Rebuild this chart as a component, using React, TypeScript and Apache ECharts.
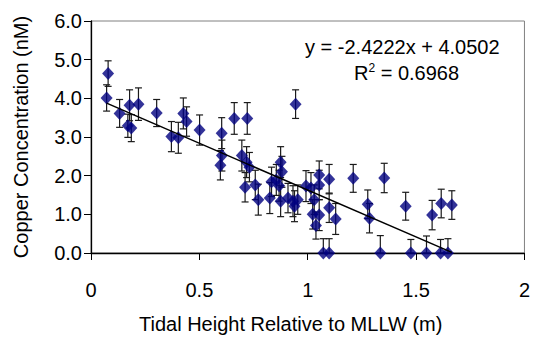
import React, { useEffect, useRef } from "react";
import * as echarts from "echarts";

const xValues = [0.072, 0.079, 0.132, 0.170, 0.178, 0.186, 0.219, 0.303, 0.371, 0.403, 0.426, 0.441, 0.501, 0.597, 0.603, 0.604, 0.661, 0.696, 0.718, 0.721, 0.731, 0.711, 0.758, 0.772, 0.825, 0.833, 0.855, 0.868, 0.875, 0.881, 0.875, 0.909, 0.932, 0.939, 0.954, 0.944, 0.992, 1.015, 1.030, 1.023, 1.038, 1.053, 1.053, 1.053, 1.099, 1.099, 1.129, 1.072, 1.099, 1.210, 1.277, 1.285, 1.335, 1.353, 1.452, 1.476, 1.548, 1.574, 1.613, 1.616, 1.647, 1.665];
const yValues = [4.01, 4.64, 3.61, 3.29, 3.82, 3.23, 3.85, 3.62, 3.01, 2.98, 3.61, 3.40, 3.18, 2.27, 3.10, 2.52, 3.48, 2.52, 2.35, 3.48, 2.22, 1.70, 1.76, 1.38, 1.42, 1.84, 1.89, 1.74, 2.35, 2.10, 1.34, 1.42, 1.34, 1.21, 1.38, 3.85, 1.73, 1.68, 1.38, 1.00, 0.71, 2.02, 1.76, 0.98, 1.91, 1.17, 0.88, 0, 0, 1.93, 1.26, 0.90, 0, 1.94, 1.21, 0, 0, 0.98, 0, 1.28, 0, 1.24];
const errValues = [0.34, 0.33, 0.36, 0.30, 0.40, 0.35, 0.42, 0.35, 0.39, 0.40, 0.40, 0.38, 0.39, 0.38, 0.40, 0.40, 0.41, 0.40, 0.40, 0.41, 0.38, 0.38, 0.38, 0.40, 0.40, 0.38, 0.40, 0.40, 0.40, 0.40, 0.40, 0.38, 0.40, 0.40, 0.38, 0.37, 0.40, 0.40, 0.38, 0.38, 0.35, 0.36, 0.38, 0.40, 0.38, 0.38, 0.40, 0.37, 0.37, 0.36, 0.37, 0.38, 0.45, 0.38, 0.36, 0.35, 0.44, 0.38, 0.35, 0.37, 0.37, 0.37];

const slope = -2.4222;
const intercept = 4.0502;
const equationText = "y = -2.4222x + 4.0502";
const r2Value = "0.6968";
const xTitle = "Tidal Height Relative to MLLW (m)";
const yTitle = "Copper Concentration (nM)";

const FONT = "Liberation Sans, Arial, sans-serif";

export default function App() {
  const ref = useRef<HTMLDivElement>(null);
  useEffect(() => {
    if (!ref.current) return;
    const chart = echarts.init(ref.current, null, { renderer: "svg" });
    const points = xValues.map((x, i) => [x, yValues[i]]);
    const bars = xValues.map((x, i) => [x, Math.max(0, yValues[i] - errValues[i]), yValues[i] + errValues[i]]);
    const xmin = Math.min(...xValues);
    const xmax = Math.max(...xValues);
    const trend = [[xmin, slope * xmin + intercept], [xmax, slope * xmax + intercept]];
    chart.setOption({
      animation: false,
      backgroundColor: "#ffffff",
      grid: { left: 91, right: 5, top: 21, bottom: 81, show: true, borderColor: "#808080", borderWidth: 1 },
      xAxis: {
        type: "value", min: 0, max: 2, interval: 0.5,
        axisLine: { show: true, onZero: false, lineStyle: { color: "#000", width: 1.3 } },
        axisTick: { show: true, length: 7, lineStyle: { color: "#000" } },
        axisLabel: { color: "#000", fontFamily: FONT, fontSize: 20, margin: 27, showMaxLabel: true },
        splitLine: { show: false },
        name: xTitle, nameLocation: "middle", nameGap: 61,
        nameTextStyle: { color: "#000", fontFamily: FONT, fontSize: 20, padding: [0, 34, 0, 0] },
      },
      yAxis: {
        type: "value", min: 0, max: 6, interval: 1,
        axisLine: { show: true, lineStyle: { color: "#000", width: 1.3 } },
        axisTick: { show: true, length: 7, lineStyle: { color: "#000" } },
        axisLabel: { color: "#000", fontFamily: FONT, fontSize: 20, margin: 9, formatter: (v: number) => v.toFixed(1) },
        splitLine: { show: false },
        name: yTitle, nameLocation: "middle", nameGap: 60,
        nameTextStyle: { color: "#000", fontFamily: FONT, fontSize: 20 },
      },
      series: [
        {
          type: "custom",
          data: bars,
          z: 2,
          renderItem: (params: any, api: any) => {
            const x = api.value(0);
            const lo = api.coord([x, api.value(1)]);
            const hi = api.coord([x, api.value(2)]);
            const cap = 3.5;
            const style = { stroke: "#1a1a1a", lineWidth: 1.2 };
            return {
              type: "group",
              children: [
                { type: "line", shape: { x1: lo[0], y1: lo[1], x2: hi[0], y2: hi[1] }, style },
                { type: "line", shape: { x1: hi[0] - cap, y1: hi[1], x2: hi[0] + cap, y2: hi[1] }, style },
                { type: "line", shape: { x1: lo[0] - cap, y1: lo[1], x2: lo[0] + cap, y2: lo[1] }, style },
              ],
            };
          },
        },
        {
          type: "scatter",
          data: points,
          symbol: "diamond",
          symbolSize: [12, 13],
          itemStyle: { color: "#000080" },
          z: 3,
        },
        {
          type: "line",
          data: trend,
          showSymbol: false,
          lineStyle: { color: "#000", width: 1.5 },
          z: 4,
        },
      ],
      graphic: [
        {
          type: "text", left: 305, top: 37, z: 10,
          style: { text: equationText, font: `20px ${FONT}`, fill: "#000" },
        },
        {
          type: "text", left: 354, top: 62, z: 10,
          style: {
            text: "{a|R}{s|2}{a| = " + r2Value + "}",
            fill: "#000",
            rich: {
              a: { fontSize: 20, fontFamily: FONT, fill: "#000", verticalAlign: "bottom" },
              s: { fontSize: 12, fontFamily: FONT, fill: "#000", verticalAlign: "top", padding: [0, 0, 9, 0] },
            },
          },
        },
      ],
    });
    return () => chart.dispose();
  }, []);
  return <div ref={ref} style={{ position: "fixed", left: 0, top: 0, width: 533, height: 339 }} />;
}
